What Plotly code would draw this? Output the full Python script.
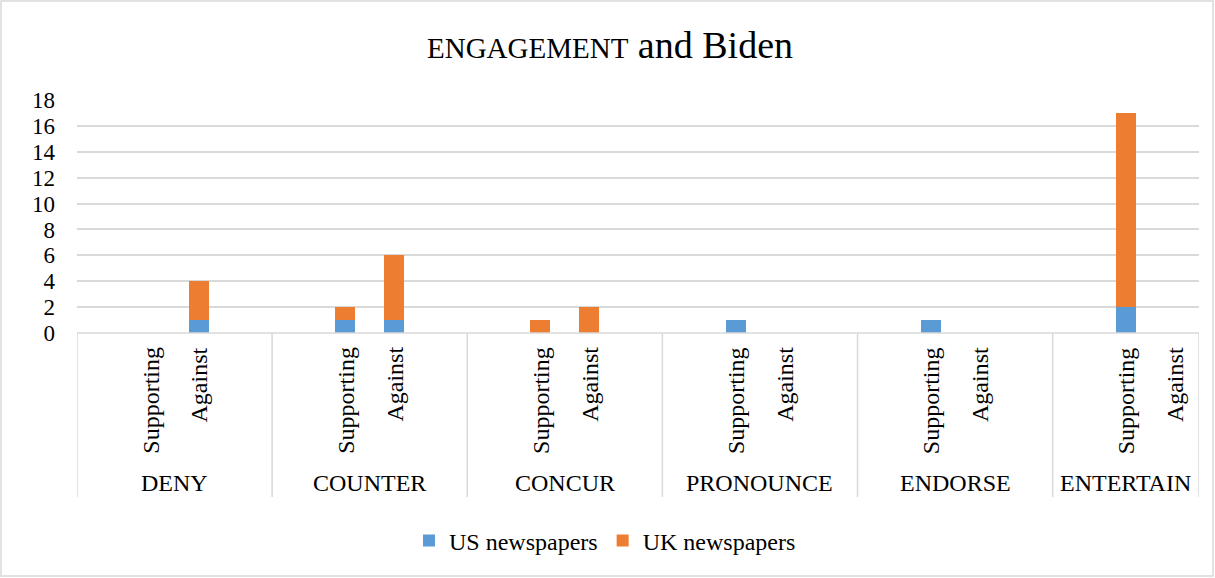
import plotly.graph_objects as go

# --- data -------------------------------------------------------------
groups = ["DENY", "COUNTER", "CONCUR", "PRONOUNCE", "ENDORSE", "ENTERTAIN"]
stances = ["Supporting", "Against"]

us_supporting = [0, 1, 0, 1, 1, 2]
us_against = [1, 1, 0, 0, 0, 0]
uk_supporting = [0, 1, 1, 0, 0, 15]
uk_against = [3, 5, 2, 0, 0, 0]

y_ticks = [0, 2, 4, 6, 8, 10, 12, 14, 16, 18]

# --- layout constants (pixels) ---------------------------------------
W, H = 1215, 578
PL, PR, PT, PB = 77, 1199, 100, 333          # plot area edges
FONT = "Liberation Serif, Times New Roman, serif"
BLUE, ORANGE = "#5B9BD5", "#ED7D31"
GRID = "#d9d9d9"
TXT = "#000000"

SLOTS_PER_GROUP = 4                          # blank, Supporting, Against, blank
N_SLOTS = SLOTS_PER_GROUP * len(groups) - 1  # last group has no trailing blank


def px_x(px):
    return (px - PL) / (PR - PL)


def px_y(py):
    return (PB - py) / (PB - PT)


# slot centre of every (group, stance) pair
x_pos, us_vals, uk_vals, stance_lbl = [], [], [], []
for g in range(len(groups)):
    for s, stance in enumerate(stances):
        x_pos.append(SLOTS_PER_GROUP * g + 1.5 + s)
        stance_lbl.append(stance)
    us_vals += [us_supporting[g], us_against[g]]
    uk_vals += [uk_supporting[g], uk_against[g]]

fig = go.Figure()
fig.add_trace(go.Bar(x=x_pos, y=us_vals, name="US newspapers",
                     marker=dict(color=BLUE, line=dict(width=0)), width=0.41))
fig.add_trace(go.Bar(x=x_pos, y=uk_vals, name="UK newspapers",
                     marker=dict(color=ORANGE, line=dict(width=0)), width=0.41))

annotations = []
# rotated stance labels under each bar
for xp, lbl in zip(x_pos, stance_lbl):
    annotations.append(dict(
        x=xp, xref="x", y=px_y(345), yref="paper", text=lbl, textangle=-90,
        showarrow=False, xanchor="center", yanchor="top",
        font=dict(family=FONT, size=24, color=TXT)))

# group labels and divider lines
shapes = []
line_bottom = px_y(497)
for g, name in enumerate(groups):
    left = SLOTS_PER_GROUP * g
    right = min(left + SLOTS_PER_GROUP, N_SLOTS)
    annotations.append(dict(
        x=(left + right) / 2, xref="x", y=px_y(483), yref="paper", text=name,
        showarrow=False, xanchor="center", yanchor="middle",
        font=dict(family=FONT, size=24, color=TXT)))
for b in list(range(0, N_SLOTS, SLOTS_PER_GROUP)) + [N_SLOTS]:
    shapes.append(dict(type="line", xref="x", yref="paper",
                       x0=b, x1=b, y0=0, y1=line_bottom,
                       line=dict(color=GRID, width=1.5)))
# category axis baseline
shapes.append(dict(type="line", xref="paper", yref="paper",
                   x0=0, x1=1, y0=0, y1=0,
                   line=dict(color=GRID, width=1.5)))
# outer chart border
shapes.append(dict(type="rect", xref="paper", yref="paper",
                   x0=px_x(1), x1=px_x(1213), y0=px_y(576), y1=px_y(1),
                   line=dict(color=GRID, width=1.5), layer="below"))

fig.update_layout(
    width=W, height=H, autosize=False,
    margin=dict(l=PL, r=W - PR, t=PT, b=H - PB, pad=0),
    paper_bgcolor="white", plot_bgcolor="white",
    barmode="stack",
    font=dict(family=FONT, color=TXT),
    title=dict(
        text="<span style='font-size:29px'>ENGAGEMENT</span> and Biden",
        x=610 / W, xanchor="center", xref="container",
        y=1 - 45 / H, yanchor="middle", yref="container",
        font=dict(family=FONT, size=38, color=TXT)),
    xaxis=dict(range=[0, N_SLOTS], showticklabels=False, showgrid=False,
               zeroline=False, showline=False, ticks="", fixedrange=True),
    yaxis=dict(range=[0, 18], tickvals=y_ticks, showgrid=True,
               gridcolor=GRID, gridwidth=1.5, zeroline=False, showline=False,
               ticks="", ticklabelstandoff=21,
               tickfont=dict(family=FONT, size=23, color=TXT)),
    legend=dict(orientation="h", xref="container", yref="container",
                x=605 / W, xanchor="center", y=1 - 541 / H, yanchor="middle",
                font=dict(family=FONT, size=24, color=TXT),
                itemwidth=30, traceorder="normal"),
    annotations=annotations,
    shapes=shapes,
)

fig.write_html("out.html")
